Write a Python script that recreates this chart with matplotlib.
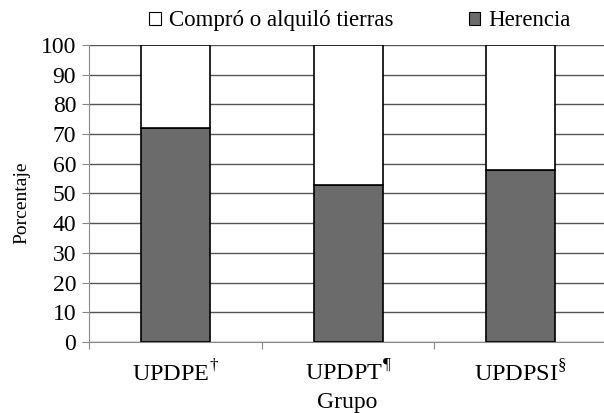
import numpy as np
import matplotlib.pyplot as plt
from matplotlib.patches import Patch

plt.rcParams['font.family'] = ['Liberation Serif', 'DejaVu Serif']
plt.rcParams['mathtext.fontset'] = 'custom'
plt.rcParams['mathtext.rm'] = 'Liberation Serif'

grupos = ['UPDPE$^{\\mathrm{†}}$', 'UPDPT$^{\\mathrm{¶}}$', 'UPDPSI$^{\\mathrm{§}}$']
herencia = [72, 53, 58]
compro = [100 - h for h in herencia]

fig = plt.figure(figsize=(6.04, 4.13), dpi=100)
ax = fig.add_axes([0.148, 0.172, 0.852, 0.719])

x = np.arange(len(grupos))
ax.bar(x, herencia, width=0.4, color='#6b6b6b', edgecolor='black', linewidth=1.2, zorder=3)
ax.bar(x, compro, bottom=herencia, width=0.4, color='white', edgecolor='black', linewidth=1.2, zorder=3)

ax.set_xlim(-0.5, 2.484)
ax.set_ylim(0, 100)
ax.set_yticks(range(0, 101, 10))
ax.yaxis.grid(True, color='#555555', linewidth=1)
ax.set_axisbelow(True)

# category boundaries as major ticks, labels on minor ticks
ax.set_xticks([-0.5, 0.5, 1.5])
ax.set_xticklabels([])
ax.set_xticks(x, minor=True)
ax.set_xticklabels(grupos, minor=True, fontsize=17.5)
ax.tick_params(axis='x', which='minor', length=0, pad=13)
ax.tick_params(axis='x', which='major', length=5, color='#888888')
ax.tick_params(axis='y', length=5, color='#888888', labelsize=17, pad=4.5)

for s in ['top', 'right']:
    ax.spines[s].set_visible(False)
ax.spines['left'].set_color('#888888')
ax.spines['bottom'].set_color('#888888')

ax.set_ylabel('Porcentaje', fontsize=14)
ax.yaxis.set_label_coords(-0.115, 0.47)
ax.set_xlabel('Grupo', fontsize=17, labelpad=4)

handles = [Patch(facecolor='white', edgecolor='black', linewidth=0.8, label='Compró o alquiló tierras'),
           Patch(facecolor='#6b6b6b', edgecolor='black', linewidth=0.8, label='Herencia')]
fig.legend(handles=handles, loc='upper center', bbox_to_anchor=(0.596, 1.025), ncol=2,
           frameon=False, fontsize=16.5, handlelength=0.5, handleheight=0.5,
           handletextpad=0.35, columnspacing=3.3)

fig.savefig('out.png', dpi=100)
